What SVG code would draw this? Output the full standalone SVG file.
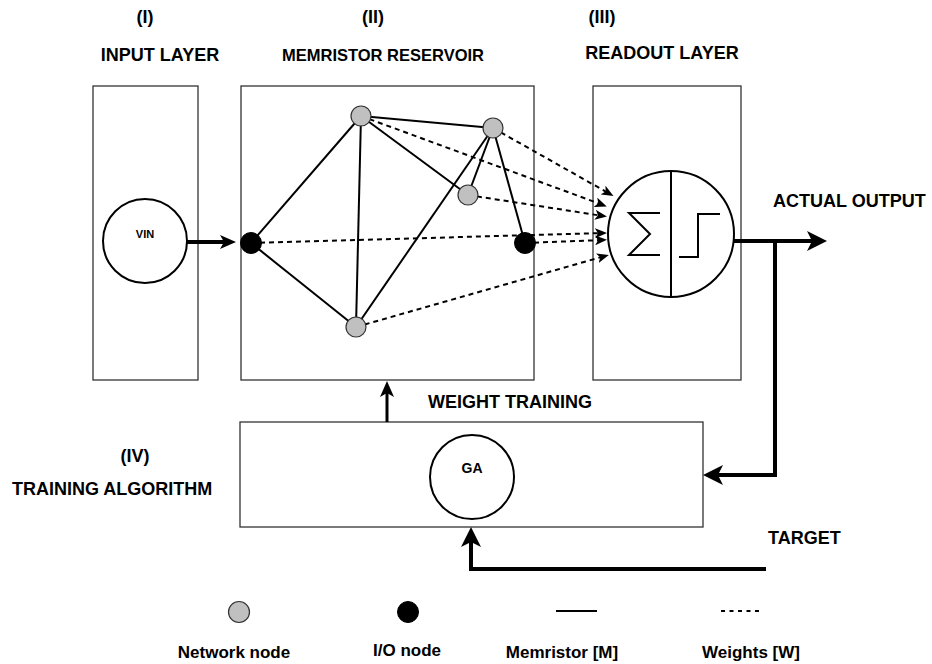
<svg xmlns="http://www.w3.org/2000/svg" width="932" height="664" viewBox="0 0 932 664">
<style>
text{font-family:"Liberation Sans",Arial,sans-serif;font-weight:bold;fill:#000}
.lbl{font-size:18px}
.leg{font-size:17px}
.box{fill:#fff;stroke:#333;stroke-width:1.3}
.circ{fill:#fff;stroke:#000;stroke-width:2}
.gnode{fill:#c0c0c0;stroke:#333;stroke-width:1.2}
.bnode{fill:#000;stroke:#000;stroke-width:1}
.mem{stroke:#000;stroke-width:2;fill:none}
.wt{stroke:#000;stroke-width:2;stroke-dasharray:5 4;fill:none}
.thick{stroke:#000;stroke-width:4;fill:none}
</style>
<defs>
<marker id="sm" markerUnits="userSpaceOnUse" viewBox="0 0 12 10" refX="8" refY="5" markerWidth="12" markerHeight="10" orient="auto">
<path d="M0,0 L12,5 L0,10 L3,5 Z" fill="#000"/>
</marker>
<marker id="big" markerUnits="userSpaceOnUse" viewBox="0 0 20 20" refX="8" refY="10" markerWidth="20" markerHeight="20" orient="auto">
<path d="M0,0 L20,10 L0,20 L5,10 Z" fill="#000"/>
</marker>
<marker id="mid" markerUnits="userSpaceOnUse" viewBox="0 0 16 14" refX="6" refY="7" markerWidth="16" markerHeight="14" orient="auto">
<path d="M0,0 L16,7 L0,14 L4,7 Z" fill="#000"/>
</marker>
</defs>

<g id="headers">
<text class="lbl" x="145" y="23" text-anchor="middle">(I)</text>
<text class="lbl" x="373" y="23" text-anchor="middle">(II)</text>
<text class="lbl" x="602" y="23" text-anchor="middle">(III)</text>
<text class="lbl" x="160" y="61" text-anchor="middle">INPUT LAYER</text>
<text class="lbl" x="383" y="61" text-anchor="middle" style="font-size:16.5px">MEMRISTOR RESERVOIR</text>
<text class="lbl" x="662" y="59" text-anchor="middle">READOUT LAYER</text>
</g>

<g id="input-layer">
<rect class="box" x="93" y="86" width="105" height="294"/>
<circle class="circ" cx="145" cy="241" r="42"/>
<text x="145" y="238" text-anchor="middle" font-size="11">VIN</text>
</g>

<g id="reservoir">
<rect class="box" x="241" y="86" width="293" height="294"/>
</g>

<g id="readout-layer">
<rect class="box" x="593" y="86" width="148" height="294"/>
<circle class="circ" cx="671" cy="234" r="63"/>
<line class="mem" x1="671" y1="171" x2="671" y2="297"/>
<path class="mem" d="M660,213 L629,213 L650,234 L629,255 L660,255"/>
<path class="mem" d="M679,257 L698,257 L698,214 L720,214"/>
</g>

<g id="training-algorithm">
<rect class="box" x="240" y="422" width="463" height="105"/>
<circle class="circ" cx="472" cy="477" r="42"/>
<text x="472" y="473" text-anchor="middle" font-size="14">GA</text>
</g>

<g id="connectors">
<line class="mem" x1="251" y1="243" x2="361" y2="116"/>
<line class="mem" x1="251" y1="243" x2="356" y2="327"/>
<line class="mem" x1="361" y1="116" x2="356" y2="327"/>
<line class="mem" x1="361" y1="116" x2="493" y2="128"/>
<line class="mem" x1="361" y1="116" x2="468" y2="195"/>
<line class="mem" x1="493" y1="128" x2="468" y2="195"/>
<line class="mem" x1="493" y1="128" x2="356" y2="327"/>
<line class="mem" x1="493" y1="128" x2="525" y2="243"/>
<line class="wt" x1="493" y1="128" x2="610" y2="194" marker-end="url(#sm)"/>
<line class="wt" x1="361" y1="116" x2="603" y2="205" marker-end="url(#sm)"/>
<line class="wt" x1="468" y1="195" x2="603" y2="216" marker-end="url(#sm)"/>
<line class="wt" x1="251" y1="243" x2="603" y2="233" marker-end="url(#sm)"/>
<line class="wt" x1="525" y1="243" x2="603" y2="240" marker-end="url(#sm)"/>
<line class="wt" x1="356" y1="327" x2="605" y2="256" marker-end="url(#sm)"/>
<line class="thick" x1="187" y1="242" x2="226" y2="242" marker-end="url(#mid)"/>
<line class="thick" x1="734" y1="241" x2="815" y2="241" marker-end="url(#big)"/>
<polyline class="thick" points="775,241 775,475 715,475" marker-end="url(#big)"/>
<polyline class="thick" points="766,569 471,569 471,539" marker-end="url(#big)"/>
<line class="thick" x1="387" y1="422" x2="387" y2="391" style="stroke-width:3" marker-end="url(#mid)"/>
</g>

<g id="nodes">
<circle class="gnode" cx="361" cy="116" r="10"/>
<circle class="gnode" cx="493" cy="128" r="10"/>
<circle class="gnode" cx="468" cy="195" r="10"/>
<circle class="gnode" cx="356" cy="327" r="10"/>
<circle class="bnode" cx="251" cy="243" r="10.5"/>
<circle class="bnode" cx="525" cy="243" r="10.5"/>
</g>

<g id="labels">
<text class="lbl" x="773" y="207">ACTUAL OUTPUT</text>
<text class="lbl" x="428" y="408">WEIGHT TRAINING</text>
<text class="lbl" x="135" y="462" text-anchor="middle">(IV)</text>
<text class="lbl" x="12" y="495">TRAINING ALGORITHM</text>
<text class="lbl" x="768" y="544">TARGET</text>
</g>

<g id="legend">
<circle class="gnode" cx="239" cy="612" r="10.5"/>
<circle class="bnode" cx="408" cy="612" r="10.5"/>
<line class="mem" x1="556" y1="611" x2="597" y2="611"/>
<line class="wt" x1="721" y1="611" x2="759" y2="611" style="stroke-dasharray:4 4.5"/>
<text class="leg" x="234" y="658" text-anchor="middle">Network node</text>
<text class="leg" x="407" y="656" text-anchor="middle">I/O node</text>
<text class="leg" x="562" y="658" text-anchor="middle">Memristor [M]</text>
<text class="leg" x="751" y="658" text-anchor="middle">Weights [W]</text>
</g>
</svg>
